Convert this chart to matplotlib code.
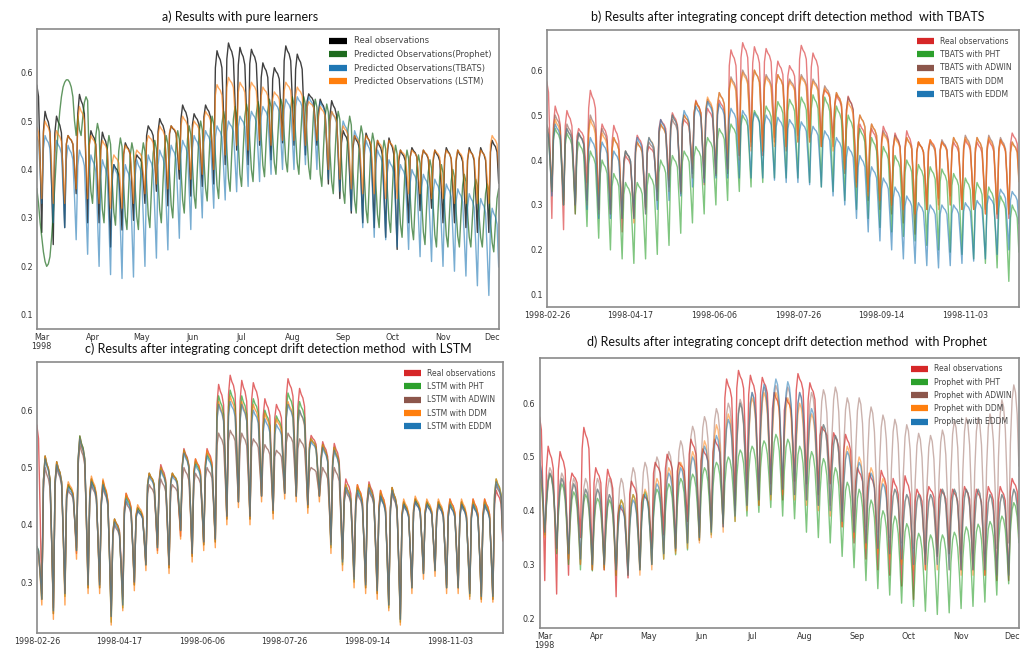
import numpy as np
import pandas as pd
import matplotlib
matplotlib.use("Agg")
import matplotlib.pyplot as plt
from matplotlib.lines import Line2D

# daily load, 1998-02-26 .. 1998-12-05, stored as one weekday peak and one weekly trough per week
dates = pd.date_range("1998-02-26", "1998-12-05", freq="D")

# weekday profile (Mon..Sun), share of the weekly swing above the trough
shape_load = [0.85, 1.0, 0.95, 0.92, 0.85, 0.45, 0.0]
shape_round = [0.6, 0.9, 1.0, 0.95, 0.8, 0.45, 0.0]
shape_prophet = [0.5, 0.15, 0.0, 0.45, 0.85, 1.0, 0.9]

real_hi = [0.60, 0.52, 0.51, 0.47, 0.555, 0.48, 0.477, 0.41, 0.455, 0.43,
           0.49, 0.505, 0.49, 0.533, 0.515, 0.533, 0.645, 0.661, 0.652, 0.648,
           0.62, 0.61, 0.655, 0.638, 0.556, 0.545, 0.542, 0.48, 0.47, 0.475,
           0.46, 0.465, 0.44, 0.445, 0.44, 0.44, 0.445, 0.44, 0.445, 0.445, 0.46]
real_lo = [0.27, 0.245, 0.28, 0.35, 0.29, 0.29, 0.24, 0.275, 0.295, 0.33,
           0.355, 0.325, 0.38, 0.345, 0.365, 0.37, 0.41, 0.44, 0.41, 0.45,
           0.42, 0.455, 0.45, 0.43, 0.45, 0.37, 0.34, 0.31, 0.29, 0.28,
           0.26, 0.235, 0.29, 0.315, 0.32, 0.29, 0.29, 0.28, 0.27, 0.27, 0.30]

# a) pure learners
prophet_head = [0.36, 0.33, 0.29, 0.26, 0.23, 0.21, 0.20, 0.205, 0.22, 0.26,
                0.31, 0.37, 0.43, 0.48, 0.52, 0.55, 0.57, 0.58, 0.585, 0.585,
                0.58, 0.57, 0.55, 0.50, 0.47]
prophet_hi = [0.55, 0.495, 0.47, 0.465, 0.455, 0.455, 0.46, 0.47, 0.48, 0.49,
              0.50, 0.51, 0.52, 0.53, 0.535, 0.54, 0.545, 0.545, 0.55, 0.55,
              0.545, 0.535, 0.52, 0.51, 0.49, 0.475, 0.46, 0.45, 0.44, 0.43,
              0.42, 0.41, 0.40, 0.39, 0.38, 0.37, 0.36]
prophet_lo = [0.47, 0.33, 0.29, 0.285, 0.276, 0.276, 0.28, 0.29, 0.30, 0.31,
              0.32, 0.335, 0.34, 0.355, 0.365, 0.375, 0.385, 0.39, 0.395, 0.39,
              0.38, 0.365, 0.35, 0.33, 0.31, 0.29, 0.28, 0.27, 0.26, 0.255,
              0.245, 0.24, 0.24, 0.24, 0.24, 0.24, 0.23]
tbats_hi = [0.48, 0.47, 0.46, 0.45, 0.44, 0.43, 0.42, 0.41, 0.41, 0.42,
            0.43, 0.44, 0.45, 0.46, 0.47, 0.48, 0.49, 0.50, 0.51, 0.52,
            0.53, 0.54, 0.545, 0.55, 0.55, 0.54, 0.52, 0.50, 0.48, 0.46,
            0.44, 0.42, 0.41, 0.40, 0.39, 0.38, 0.37, 0.36, 0.35, 0.34, 0.32]
tbats_lo = [0.33, 0.29, 0.28, 0.255, 0.225, 0.20, 0.183, 0.175, 0.178, 0.20,
            0.217, 0.234, 0.258, 0.276, 0.30, 0.32, 0.337, 0.354, 0.365, 0.375,
            0.39, 0.40, 0.40, 0.41, 0.40, 0.38, 0.355, 0.315, 0.28, 0.26,
            0.255, 0.24, 0.235, 0.22, 0.21, 0.20, 0.19, 0.18, 0.16, 0.14, 0.10]
lstm_hi = [0.50, 0.50, 0.48, 0.47, 0.53, 0.47, 0.46, 0.43, 0.45, 0.44,
           0.47, 0.49, 0.49, 0.51, 0.50, 0.52, 0.575, 0.59, 0.58, 0.58,
           0.57, 0.56, 0.58, 0.57, 0.54, 0.53, 0.52, 0.49, 0.47, 0.47,
           0.46, 0.46, 0.44, 0.44, 0.44, 0.44, 0.44, 0.44, 0.44, 0.44, 0.47]
lstm_lo = [0.34, 0.33, 0.33, 0.36, 0.34, 0.33, 0.32, 0.32, 0.33, 0.35,
           0.37, 0.36, 0.40, 0.38, 0.39, 0.40, 0.43, 0.45, 0.44, 0.46,
           0.45, 0.46, 0.46, 0.45, 0.46, 0.40, 0.38, 0.36, 0.35, 0.35,
           0.34, 0.34, 0.35, 0.35, 0.34, 0.34, 0.33, 0.33, 0.33, 0.33, 0.35]

# b) TBATS + drift detectors
tb_pht_hi = [0.47, 0.47, 0.46, 0.44, 0.42, 0.40, 0.37, 0.35, 0.35, 0.37,
             0.40, 0.41, 0.42, 0.43, 0.45, 0.47, 0.48, 0.50, 0.51, 0.52,
             0.53, 0.535, 0.54, 0.545, 0.54, 0.52, 0.50, 0.47, 0.45, 0.43,
             0.41, 0.40, 0.39, 0.385, 0.38, 0.37, 0.36, 0.35, 0.34, 0.32, 0.30]
tb_pht_lo = [0.33, 0.30, 0.28, 0.252, 0.226, 0.20, 0.18, 0.17, 0.18, 0.19,
             0.21, 0.237, 0.26, 0.28, 0.30, 0.31, 0.33, 0.34, 0.35, 0.36,
             0.36, 0.36, 0.35, 0.34, 0.33, 0.31, 0.29, 0.27, 0.25, 0.24,
             0.23, 0.22, 0.21, 0.20, 0.195, 0.19, 0.18, 0.17, 0.16, 0.13, 0.11]
tb_adwin_hi = [0.49, 0.50, 0.48, 0.46, 0.50, 0.47, 0.45, 0.42, 0.44, 0.44,
               0.48, 0.49, 0.50, 0.53, 0.535, 0.55, 0.585, 0.60, 0.60, 0.59,
               0.59, 0.58, 0.59, 0.58, 0.565, 0.55, 0.54, 0.50, 0.48, 0.465,
               0.455, 0.45, 0.44, 0.44, 0.445, 0.45, 0.455, 0.45, 0.455, 0.45, 0.44]
tb_adwin_lo = [0.34, 0.31, 0.30, 0.31, 0.29, 0.28, 0.27, 0.27, 0.29, 0.31,
               0.34, 0.33, 0.37, 0.36, 0.37, 0.38, 0.41, 0.43, 0.42, 0.44,
               0.43, 0.44, 0.44, 0.43, 0.43, 0.38, 0.35, 0.33, 0.31, 0.30,
               0.29, 0.28, 0.29, 0.30, 0.30, 0.29, 0.29, 0.29, 0.28, 0.28, 0.29]
tb_ddm_hi = [0.48, 0.49, 0.47, 0.46, 0.49, 0.46, 0.45, 0.42, 0.44, 0.45,
             0.48, 0.50, 0.50, 0.53, 0.54, 0.55, 0.58, 0.595, 0.60, 0.585,
             0.59, 0.575, 0.585, 0.575, 0.56, 0.55, 0.53, 0.50, 0.48, 0.46,
             0.45, 0.45, 0.44, 0.445, 0.44, 0.45, 0.45, 0.45, 0.45, 0.445, 0.44]
tb_ddm_lo = [0.33, 0.30, 0.30, 0.30, 0.28, 0.28, 0.27, 0.26, 0.28, 0.31,
             0.33, 0.33, 0.36, 0.36, 0.37, 0.38, 0.40, 0.42, 0.42, 0.43,
             0.43, 0.44, 0.44, 0.43, 0.42, 0.38, 0.34, 0.32, 0.31, 0.30,
             0.29, 0.28, 0.29, 0.29, 0.30, 0.29, 0.29, 0.28, 0.28, 0.28, 0.28]
tb_eddm_hi = [0.48, 0.48, 0.47, 0.46, 0.45, 0.44, 0.42, 0.42, 0.45, 0.45,
              0.49, 0.50, 0.51, 0.52, 0.53, 0.525, 0.515, 0.51, 0.505, 0.50,
              0.495, 0.49, 0.485, 0.475, 0.465, 0.45, 0.43, 0.41, 0.385, 0.36,
              0.34, 0.32, 0.305, 0.30, 0.30, 0.30, 0.305, 0.31, 0.32, 0.335, 0.33]
tb_eddm_lo = [0.32, 0.30, 0.30, 0.29, 0.27, 0.27, 0.27, 0.27, 0.28, 0.29,
              0.31, 0.32, 0.34, 0.35, 0.36, 0.36, 0.36, 0.36, 0.36, 0.355,
              0.35, 0.35, 0.345, 0.34, 0.32, 0.30, 0.27, 0.24, 0.22, 0.20,
              0.18, 0.17, 0.165, 0.16, 0.165, 0.17, 0.175, 0.18, 0.19, 0.20, 0.20]

# c) LSTM + drift detectors
ls_pht_hi = [0.37, 0.52, 0.51, 0.47, 0.555, 0.48, 0.475, 0.41, 0.45, 0.43,
             0.49, 0.50, 0.49, 0.53, 0.51, 0.525, 0.625, 0.635, 0.625, 0.62,
             0.60, 0.59, 0.63, 0.615, 0.55, 0.54, 0.535, 0.47, 0.465, 0.47,
             0.455, 0.465, 0.44, 0.445, 0.44, 0.44, 0.44, 0.44, 0.44, 0.44, 0.48]
ls_pht_lo = [0.27, 0.245, 0.275, 0.355, 0.29, 0.29, 0.23, 0.255, 0.295, 0.33,
             0.36, 0.325, 0.39, 0.345, 0.365, 0.37, 0.41, 0.44, 0.41, 0.45,
             0.42, 0.455, 0.45, 0.43, 0.45, 0.36, 0.33, 0.30, 0.29, 0.28,
             0.255, 0.23, 0.29, 0.315, 0.32, 0.29, 0.29, 0.275, 0.27, 0.27, 0.30]
ls_adwin_hi = [0.36, 0.50, 0.50, 0.46, 0.54, 0.47, 0.465, 0.40, 0.44, 0.425,
               0.47, 0.48, 0.47, 0.50, 0.49, 0.50, 0.56, 0.565, 0.56, 0.55,
               0.54, 0.53, 0.56, 0.55, 0.50, 0.50, 0.50, 0.46, 0.455, 0.46,
               0.45, 0.455, 0.435, 0.44, 0.435, 0.435, 0.435, 0.435, 0.435, 0.435, 0.47]
ls_adwin_lo = [0.28, 0.255, 0.285, 0.36, 0.30, 0.30, 0.25, 0.27, 0.30, 0.335,
               0.365, 0.33, 0.39, 0.35, 0.37, 0.375, 0.415, 0.44, 0.415, 0.45,
               0.425, 0.455, 0.45, 0.435, 0.45, 0.37, 0.34, 0.31, 0.30, 0.29,
               0.27, 0.245, 0.295, 0.32, 0.325, 0.295, 0.295, 0.285, 0.28, 0.28, 0.31]
ls_ddm_hi = [0.37, 0.52, 0.51, 0.475, 0.55, 0.485, 0.48, 0.41, 0.455, 0.435,
             0.49, 0.50, 0.49, 0.53, 0.515, 0.53, 0.615, 0.625, 0.615, 0.61,
             0.595, 0.585, 0.615, 0.60, 0.55, 0.54, 0.535, 0.47, 0.47, 0.47,
             0.46, 0.465, 0.445, 0.45, 0.445, 0.445, 0.445, 0.445, 0.445, 0.445, 0.48]
ls_ddm_lo = [0.26, 0.235, 0.26, 0.34, 0.28, 0.28, 0.225, 0.25, 0.285, 0.32,
             0.35, 0.315, 0.375, 0.335, 0.355, 0.36, 0.40, 0.43, 0.40, 0.44,
             0.41, 0.445, 0.44, 0.42, 0.44, 0.35, 0.32, 0.29, 0.28, 0.27,
             0.25, 0.225, 0.28, 0.305, 0.31, 0.28, 0.28, 0.27, 0.265, 0.265, 0.29]
ls_eddm_hi = [0.37, 0.515, 0.505, 0.465, 0.55, 0.475, 0.47, 0.405, 0.445, 0.425,
              0.485, 0.495, 0.485, 0.525, 0.505, 0.52, 0.61, 0.615, 0.61, 0.60,
              0.585, 0.575, 0.61, 0.60, 0.545, 0.535, 0.53, 0.465, 0.46, 0.465,
              0.45, 0.46, 0.435, 0.44, 0.435, 0.435, 0.435, 0.435, 0.435, 0.435, 0.475]
ls_eddm_lo = [0.27, 0.25, 0.28, 0.355, 0.295, 0.295, 0.24, 0.26, 0.30, 0.33,
              0.36, 0.33, 0.39, 0.35, 0.37, 0.375, 0.415, 0.44, 0.415, 0.45,
              0.425, 0.455, 0.45, 0.435, 0.45, 0.365, 0.335, 0.305, 0.295, 0.285,
              0.26, 0.235, 0.29, 0.315, 0.32, 0.29, 0.29, 0.28, 0.275, 0.275, 0.30]

# d) Prophet + drift detectors
pr_pht_hi = [0.47, 0.468, 0.45, 0.435, 0.43, 0.423, 0.42, 0.42, 0.43, 0.435,
             0.44, 0.45, 0.46, 0.468, 0.48, 0.49, 0.50, 0.513, 0.52, 0.53,
             0.542, 0.533, 0.52, 0.51, 0.497, 0.48, 0.453, 0.44, 0.42, 0.40,
             0.39, 0.376, 0.358, 0.355, 0.355, 0.36, 0.37, 0.375, 0.38, 0.39, 0.415]
pr_pht_lo = [0.355, 0.32, 0.30, 0.29, 0.288, 0.294, 0.28, 0.29, 0.29, 0.30,
             0.31, 0.318, 0.327, 0.345, 0.355, 0.376, 0.38, 0.39, 0.397, 0.406,
             0.39, 0.385, 0.36, 0.35, 0.34, 0.315, 0.294, 0.27, 0.255, 0.243,
             0.228, 0.222, 0.213, 0.207, 0.21, 0.218, 0.222, 0.23, 0.243, 0.264, 0.28]
pr_adwin_hi = [0.50, 0.48, 0.47, 0.46, 0.46, 0.46, 0.46, 0.46, 0.48, 0.49,
               0.50, 0.51, 0.53, 0.557, 0.575, 0.59, 0.60, 0.607, 0.62, 0.63,
               0.633, 0.63, 0.62, 0.62, 0.625, 0.63, 0.61, 0.61, 0.593, 0.578,
               0.57, 0.56, 0.544, 0.54, 0.55, 0.567, 0.573, 0.573, 0.58, 0.606, 0.634]
pr_adwin_lo = [0.36, 0.33, 0.31, 0.30, 0.29, 0.29, 0.28, 0.28, 0.29, 0.30,
               0.32, 0.33, 0.34, 0.36, 0.37, 0.38, 0.40, 0.41, 0.42, 0.43,
               0.43, 0.43, 0.42, 0.41, 0.41, 0.40, 0.39, 0.37, 0.36, 0.35,
               0.34, 0.33, 0.32, 0.32, 0.32, 0.32, 0.32, 0.32, 0.33, 0.34, 0.36]
pr_ddm_hi = [0.49, 0.47, 0.46, 0.45, 0.44, 0.44, 0.43, 0.42, 0.43, 0.44,
             0.46, 0.48, 0.49, 0.51, 0.53, 0.56, 0.58, 0.60, 0.61, 0.62,
             0.62, 0.61, 0.60, 0.58, 0.56, 0.54, 0.52, 0.50, 0.48, 0.46,
             0.44, 0.43, 0.43, 0.43, 0.44, 0.44, 0.44, 0.44, 0.43, 0.43, 0.44]
pr_ddm_lo = [0.35, 0.33, 0.31, 0.30, 0.29, 0.29, 0.28, 0.28, 0.28, 0.29,
             0.31, 0.32, 0.33, 0.34, 0.35, 0.36, 0.38, 0.40, 0.41, 0.42,
             0.43, 0.42, 0.41, 0.40, 0.39, 0.37, 0.35, 0.33, 0.32, 0.31,
             0.30, 0.29, 0.29, 0.29, 0.29, 0.28, 0.28, 0.28, 0.28, 0.28, 0.28]
pr_eddm_hi = [0.50, 0.47, 0.46, 0.45, 0.44, 0.44, 0.43, 0.41, 0.42, 0.43,
              0.45, 0.47, 0.48, 0.50, 0.52, 0.54, 0.57, 0.60, 0.62, 0.635,
              0.645, 0.64, 0.62, 0.59, 0.56, 0.54, 0.51, 0.49, 0.47, 0.45,
              0.44, 0.43, 0.43, 0.43, 0.44, 0.44, 0.44, 0.44, 0.43, 0.43, 0.44]
pr_eddm_lo = [0.36, 0.33, 0.32, 0.31, 0.30, 0.30, 0.29, 0.28, 0.29, 0.30,
              0.32, 0.33, 0.34, 0.35, 0.36, 0.37, 0.39, 0.41, 0.42, 0.43,
              0.44, 0.43, 0.42, 0.41, 0.40, 0.38, 0.36, 0.34, 0.33, 0.32,
              0.31, 0.30, 0.30, 0.30, 0.29, 0.29, 0.29, 0.29, 0.28, 0.28, 0.29]

titles = ["a) Results with pure learners",
          "b) Results after integrating concept drift detection method  with TBATS",
          "c) Results after integrating concept drift detection method  with LSTM",
          "d) Results after integrating concept drift detection method  with Prophet"]
month_labels = ["Mar\n1998", "Apr", "May", "Jun", "Jul", "Aug", "Sep", "Oct", "Nov", "Dec"]
date_labels = ["1998-02-26", "1998-04-17", "1998-06-06", "1998-07-26", "1998-09-14", "1998-11-03"]

RED, GREEN, BROWN, ORANGE, BLUE = "#d62728", "#2ca02c", "#8c564b", "#ff7f0e", "#1f77b4"


def weekly(hi, lo, shape, first_day=0):
    """Expand weekly peak/trough values to one value per day."""
    day = np.arange(first_day, len(dates))
    week = (day + 3) // 7 - (first_day + 3) // 7
    wd = dates.weekday[day]
    hi, lo = np.asarray(hi), np.asarray(lo)
    return lo[week] + (hi[week] - lo[week]) * np.asarray(shape)[wd]


real = weekly(real_hi, real_lo, shape_load)


def style_axes(ax, ylim, yticks, month_axis):
    ax.set_xlim(dates[0], dates[-1])
    ax.set_ylim(*ylim)
    ax.set_yticks(yticks)
    ax.set_yticklabels(["%.1f" % t for t in yticks])
    if month_axis:
        ax.set_xticks(pd.date_range("1998-03-01", periods=len(month_labels), freq="MS"))
        ax.set_xticklabels(month_labels, linespacing=1.0)
    else:
        ax.set_xticks(pd.to_datetime(date_labels))
        ax.set_xticklabels(date_labels)
    ax.tick_params(length=0, labelsize=5.8, colors="#333333", pad=3)
    for s in ax.spines.values():
        s.set_color("#8a8a8a")
        s.set_linewidth(1.2)


def draw(ax, series, labels, colors, alphas, legend_size):
    for y, c, a in zip(series, colors, alphas):
        ax.plot(dates, y, color=c, lw=1.0, alpha=a)
    handles = [Line2D([], [], color=c, lw=4.5, solid_capstyle="butt") for c in colors]
    ax.legend(handles, labels, loc="upper right", frameon=False, fontsize=legend_size,
              handlelength=2.2, labelspacing=0.55, borderaxespad=0.5,
              labelcolor="#444444")


fig = plt.figure(figsize=(10.24, 6.5), dpi=100)

# a) pure learners
ax = fig.add_axes([0.036, 0.494, 0.451, 0.4615])
prophet = np.concatenate([prophet_head, weekly(prophet_hi, prophet_lo, shape_prophet, 25)])
draw(ax, [real, prophet, weekly(tbats_hi, tbats_lo, shape_load), weekly(lstm_hi, lstm_lo, shape_load)],
     ["Real observations", "Predicted Observations(Prophet)",
      "Predicted Observations(TBATS)", "Predicted Observations (LSTM)"],
     ["black", "#1e6b1e", BLUE, ORANGE], [0.75, 0.7, 0.6, 0.65], 6.0)
style_axes(ax, (0.071, 0.69), [0.1, 0.2, 0.3, 0.4, 0.5, 0.6], True)

# b) TBATS
ax = fig.add_axes([0.534, 0.5277, 0.461, 0.426])
draw(ax, [real, weekly(tb_pht_hi, tb_pht_lo, shape_load), weekly(tb_adwin_hi, tb_adwin_lo, shape_load),
          weekly(tb_ddm_hi, tb_ddm_lo, shape_load), weekly(tb_eddm_hi, tb_eddm_lo, shape_load)],
     ["Real observations", "TBATS with PHT", "TBATS with ADWIN", "TBATS with DDM", "TBATS with EDDM"],
     [RED, GREEN, BROWN, ORANGE, BLUE], [0.6, 0.6, 0.6, 0.6, 0.6], 5.5)
style_axes(ax, (0.073, 0.689), [0.1, 0.2, 0.3, 0.4, 0.5, 0.6], False)

# c) LSTM
ax = fig.add_axes([0.036, 0.026, 0.455, 0.417])
draw(ax, [real, weekly(ls_pht_hi, ls_pht_lo, shape_load), weekly(ls_adwin_hi, ls_adwin_lo, shape_load),
          weekly(ls_ddm_hi, ls_ddm_lo, shape_load), weekly(ls_eddm_hi, ls_eddm_lo, shape_load)],
     ["Real observations", "LSTM with PHT", "LSTM with ADWIN", "LSTM with DDM", "LSTM with EDDM"],
     [RED, GREEN, BROWN, ORANGE, BLUE], [0.7, 0.7, 0.7, 0.7, 0.6], 5.5)
style_axes(ax, (0.211, 0.684), [0.3, 0.4, 0.5, 0.6], False)

# d) Prophet
ax = fig.add_axes([0.527, 0.034, 0.468, 0.416])
draw(ax, [real, weekly(pr_pht_hi, pr_pht_lo, shape_round), weekly(pr_adwin_hi, pr_adwin_lo, shape_round),
          weekly(pr_ddm_hi, pr_ddm_lo, shape_round), weekly(pr_eddm_hi, pr_eddm_lo, shape_round)],
     ["Real observations", "Prophet with PHT", "Prophet with ADWIN", "Prophet with DDM", "Prophet with EDDM"],
     [RED, GREEN, BROWN, ORANGE, BLUE], [0.7, 0.6, 0.45, 0.55, 0.55], 5.5)
style_axes(ax, (0.182, 0.685), [0.2, 0.3, 0.4, 0.5, 0.6], True)

# panel captions
for (x, y), t in zip([(0.234, 0.975), (0.769, 0.975), (0.272, 0.463), (0.769, 0.474)], titles):
    fig.text(x, y, t, ha="center", va="center", fontsize=9, family="Lato", color="#111111")

fig.savefig("out.png", dpi=100)
